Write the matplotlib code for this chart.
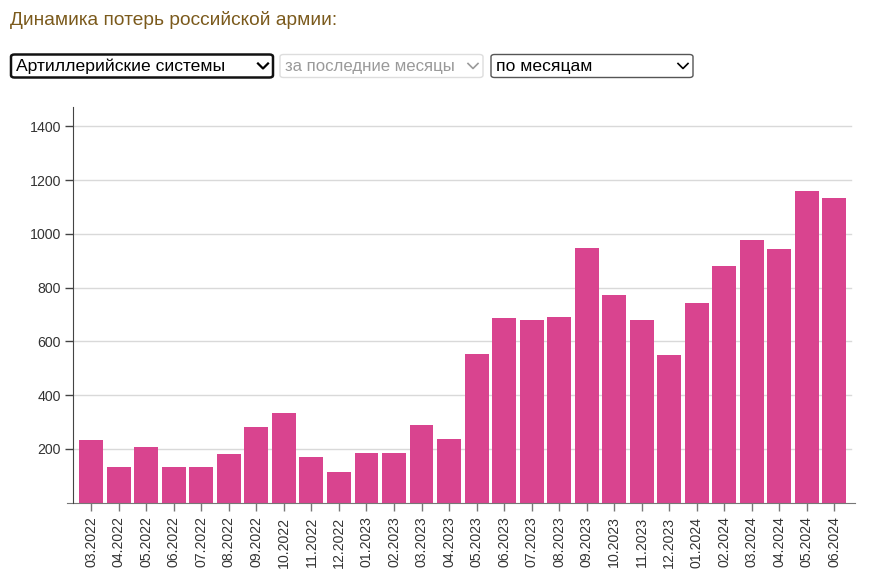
import matplotlib
matplotlib.use("Agg")
import matplotlib.pyplot as plt
from matplotlib.patches import FancyBboxPatch
from matplotlib.lines import Line2D

months = ["03.2022", "04.2022", "05.2022", "06.2022", "07.2022", "08.2022", "09.2022",
          "10.2022", "11.2022", "12.2022", "01.2023", "02.2023", "03.2023", "04.2023",
          "05.2023", "06.2023", "07.2023", "08.2023", "09.2023", "10.2023", "11.2023",
          "12.2023", "01.2024", "02.2024", "03.2024", "04.2024", "05.2024", "06.2024"]
losses = [233, 134, 208, 134, 134, 181, 283, 335, 171, 115, 186, 186, 289, 237,
          553, 688, 679, 692, 948, 772, 679, 548, 744, 879, 977, 943, 1159, 1134]
yticks = [200, 400, 600, 800, 1000, 1200, 1400]

title = "Динамика потерь российской армии:"
select_texts = ["Артиллерийские системы", "за последние месяцы", "по месяцам"]

plt.rcParams["font.family"] = ["Liberation Sans", "DejaVu Sans"]

W, H = 877, 583
fig = plt.figure(figsize=(W / 100, H / 100), dpi=100)


def fx(x):
    return x / W


def fy(y):
    return 1 - y / H


# header
fig.text(fx(10), fy(20), title, fontsize=13.8, color="#7b5a1c", va="center", ha="left")

# select boxes (x0, x1, border colour, border width, text colour, font size)
boxes = [(11, 273, "#111111", 1.8, "#000000", 12.6),
         (280, 483, "#dddddd", 1.0, "#9a9a9a", 12.1),
         (491, 693, "#555555", 1.0, "#000000", 12.6)]
for (x0, x1, ec, lw, tc, fs), txt in zip(boxes, select_texts):
    y0, y1 = 54.5, 77.5
    fig.patches.append(FancyBboxPatch((fx(x0), fy(y1)), fx(x1 - x0), (y1 - y0) / H,
                                      boxstyle="round,pad=0,rounding_size=0.004",
                                      transform=fig.transFigure, facecolor="white",
                                      edgecolor=ec, linewidth=lw))
    fig.text(fx(x0 + 5), fy(66.5), txt, fontsize=fs, color=tc, va="center", ha="left")
    cx = x1 - 10
    fig.lines.append(Line2D([fx(cx - 5), fx(cx), fx(cx + 5)], [fy(63.5), fy(68.5), fy(63.5)],
                            transform=fig.transFigure, color=tc, linewidth=1.6 if lw > 1 else 1.2))

# chart
ax_l, ax_r, ax_t, ax_b = 66.7, 855, 106.7, 502.7
ax = fig.add_axes([fx(ax_l), fy(ax_b), fx(ax_r - ax_l), (ax_b - ax_t) / H])

x = list(range(len(months)))
ax.bar(x, losses, width=0.87, color="#d9448f", zorder=2)

step = 27.52
x_left = -(91.3 - ax_l) / step
x_right = len(months) - 1 + (ax_r - 834.3) / step
ax.set_xlim(x_left, x_right)
ax.set_ylim(0, 1473)

for v in yticks:
    ax.axhline(v, xmin=(73.3 - ax_l) / (ax_r - ax_l), xmax=(851 - ax_l) / (ax_r - ax_l),
               color="#d9d9d9", linewidth=1, zorder=1)

ax.spines["top"].set_visible(False)
ax.spines["right"].set_visible(False)
ax.spines["left"].set_position(("data", x_left + (73.3 - ax_l) / step))
ax.spines["left"].set_color("#444444")
ax.spines["bottom"].set_color("#777777")
ax.spines["left"].set_zorder(3)

ax.set_yticks(yticks)
ax.set_yticklabels([str(v) for v in yticks])
ax.set_xticks(x)
ax.set_xticklabels(months, rotation=90, va="top", ha="center")
ax.tick_params(axis="y", length=6, width=1, color="#444444", labelsize=10.2, labelcolor="#333333", pad=3)
ax.tick_params(axis="x", length=6, width=1, color="#777777", labelsize=10.2, labelcolor="#333333", pad=4)

fig.savefig("out.png", dpi=100, facecolor="white")
